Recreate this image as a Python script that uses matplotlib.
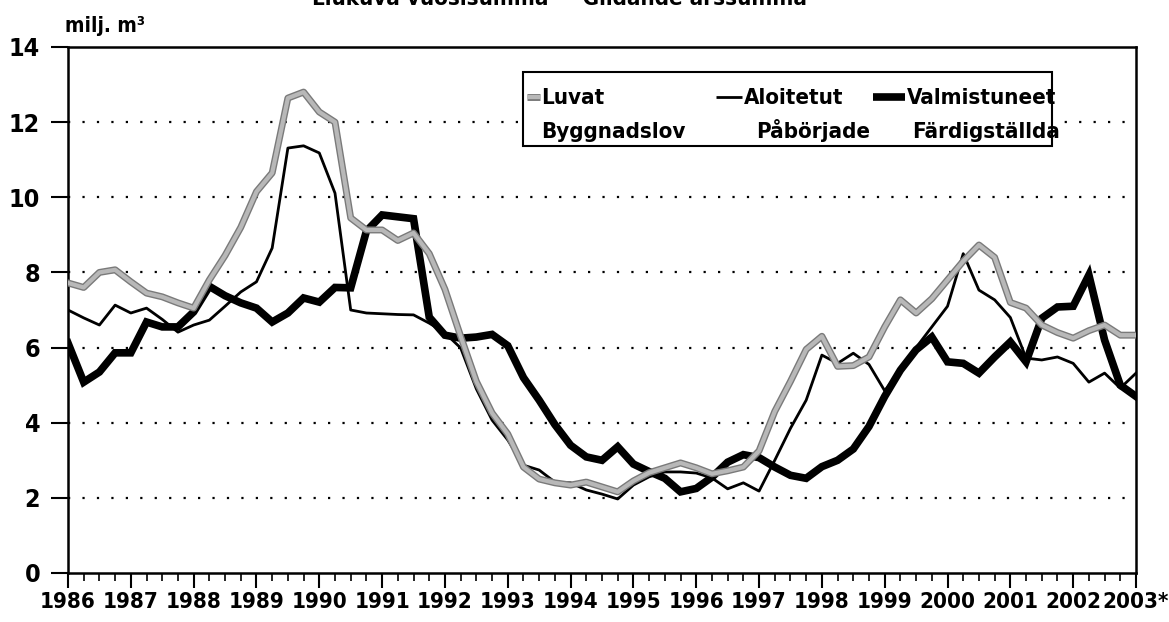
import numpy as np
import matplotlib.pyplot as plt
import matplotlib.patheffects as pe
from matplotlib import font_manager
from matplotlib.lines import Line2D
from matplotlib.patches import Rectangle

# condensed face if there is one, else Liberation Sans
has_cond = any(f.name == 'DejaVu Sans' and f.stretch == 'condensed'
               for f in font_manager.fontManager.ttflist)
if has_cond:
    plt.rcParams['font.family'] = ['DejaVu Sans']
    plt.rcParams['font.stretch'] = 'condensed'
    scale = 1.0
else:
    plt.rcParams['font.family'] = ['Liberation Sans', 'DejaVu Sans']
    scale = 0.9
plt.rcParams['font.weight'] = 'bold'

# quarterly, 1986 Q1 .. 2003 Q1 (moving annual sum, mill. m3)
start_year = 1986
luvat = [7.72, 7.6, 8.0, 8.07, 7.75, 7.45, 7.35, 7.19,
         7.05, 7.8, 8.45, 9.2, 10.15, 10.65, 12.64, 12.8,
         12.27, 12.0, 9.45, 9.13, 9.13, 8.85, 9.05, 8.5,
         7.55, 6.3, 5.1, 4.26, 3.7, 2.82, 2.5, 2.4,
         2.34, 2.42, 2.29, 2.16, 2.45, 2.67, 2.8, 2.93,
         2.8, 2.64, 2.72, 2.82, 3.25, 4.3, 5.1, 5.95,
         6.3, 5.5, 5.52, 5.75, 6.55, 7.27, 6.92, 7.3,
         7.8, 8.3, 8.73, 8.4, 7.2, 7.05, 6.6, 6.4,
         6.25, 6.45, 6.6, 6.33, 6.33]
aloitetut = [7.0, 6.79, 6.6, 7.13, 6.92, 7.05, 6.75, 6.41,
             6.6, 6.73, 7.1, 7.48, 7.75, 8.65, 11.31, 11.37,
             11.18, 10.11, 7.0, 6.92, 6.9, 6.88, 6.87, 6.65,
             6.39, 5.99, 4.9, 4.07, 3.54, 2.87, 2.74, 2.42,
             2.4, 2.21, 2.1, 1.97, 2.34, 2.56, 2.69, 2.69,
             2.66, 2.53, 2.24, 2.4, 2.18, 3.0, 3.85, 4.6,
             5.8, 5.58, 5.85, 5.55, 4.85, 5.4, 6.0, 6.55,
             7.1, 8.5, 7.53, 7.27, 6.8, 5.72, 5.67, 5.75,
             5.58, 5.08, 5.32, 4.92, 5.32]
valmistuneet = [6.12, 5.08, 5.35, 5.86, 5.86, 6.68, 6.55, 6.55,
                6.95, 7.63, 7.38, 7.19, 7.05, 6.68, 6.92, 7.32,
                7.21, 7.6, 7.59, 9.1, 9.53, 9.48, 9.43, 6.81,
                6.33, 6.25, 6.28, 6.35, 6.05, 5.2, 4.6, 3.95,
                3.4, 3.09, 3.0, 3.36, 2.9, 2.7, 2.52, 2.16,
                2.25, 2.55, 2.95, 3.15, 3.07, 2.82, 2.6, 2.52,
                2.83, 3.0, 3.3, 3.9, 4.7, 5.4, 5.94, 6.28,
                5.62, 5.58, 5.32, 5.75, 6.15, 5.62, 6.78, 7.08,
                7.1, 7.93, 6.2, 5.0, 4.7]
year_labels = [str(y) for y in range(1986, 2003)] + ['2003*']

x = start_year + np.arange(len(luvat)) / 4.0

fig = plt.figure(figsize=(11.69, 6.22), dpi=100)
ax = fig.add_axes([68/1169, 1 - 573/622, 1068/1169, 526/622])

ax.plot(x, valmistuneet, color='black', lw=5.5, solid_joinstyle='miter', zorder=3)
ax.plot(x, aloitetut, color='black', lw=2, zorder=4)
gray_fx = [pe.Stroke(linewidth=5, foreground='#7a7a7a'), pe.Normal()]
ax.plot(x, luvat, color='#b8b8b8', lw=3, zorder=5, path_effects=gray_fx)

ax.set_xlim(1986, 2003)
ax.set_ylim(0, 14)
ax.set_yticks(range(0, 15, 2))
ax.set_xticks(range(1986, 2004))
ax.set_xticklabels(year_labels)
ax.set_xticks(np.arange(1986, 2003.01, 0.25), minor=True)
for yy in range(2, 13, 2):
    ax.axhline(yy, color='black', lw=1.6, ls=(0, (1, 5.5)), zorder=1)

ax.tick_params(axis='y', direction='out', length=12, width=1.5, labelsize=18 * scale, pad=8)
ax.tick_params(axis='x', which='major', direction='out', length=11, width=1.5,
               labelsize=16 * scale, pad=3)
ax.tick_params(axis='x', which='minor', direction='out', length=5.5, width=1.2)
for s in ax.spines.values():
    s.set_linewidth(1.8)

fig.text(65/1169, 1 - 26/622, 'milj. m³', fontsize=15 * scale, va='center', ha='left')
fig.text(0.479, 1 - 5/622, 'Liukuva vuosisumma \u2014 Glidande årssumma',
         fontsize=16 * scale, ha='center', va='baseline')

# legend drawn by hand (two text rows per entry)
def fx(px):
    return (px - 68) / 1068

def fy(py):
    return (573 - py) / 526

ax.add_patch(Rectangle((fx(523), fy(146)), fx(1052) - fx(523), fy(72) - fy(146),
                       transform=ax.transAxes, facecolor='white', edgecolor='black',
                       lw=1.5, zorder=6))
r1 = fy(97)
b1, b2 = fy(104), fy(138)
ax.add_line(Line2D([fx(527), fx(540)], [r1, r1], transform=ax.transAxes, color='#b8b8b8',
                   lw=3, path_effects=gray_fx, zorder=7, solid_capstyle='butt'))
ax.add_line(Line2D([fx(716), fx(742)], [r1, r1], transform=ax.transAxes, color='black',
                   lw=2, zorder=7, solid_capstyle='butt'))
ax.add_line(Line2D([fx(873), fx(905)], [r1, r1], transform=ax.transAxes, color='black',
                   lw=5.5, zorder=7, solid_capstyle='butt'))
legend_rows = [('Luvat', 'Byggnadslov', 541, 541),
               ('Aloitetut', 'Påbörjade', 744, 756),
               ('Valmistuneet', 'Färdigställda', 907, 912)]
for t1, t2, x1, x2 in legend_rows:
    ax.text(fx(x1), b1, t1, transform=ax.transAxes, fontsize=16 * scale, va='baseline',
            ha='left', zorder=8)
    ax.text(fx(x2), b2, t2, transform=ax.transAxes, fontsize=16 * scale, va='baseline',
            ha='left', zorder=8)

fig.savefig('out.png', dpi=100)
